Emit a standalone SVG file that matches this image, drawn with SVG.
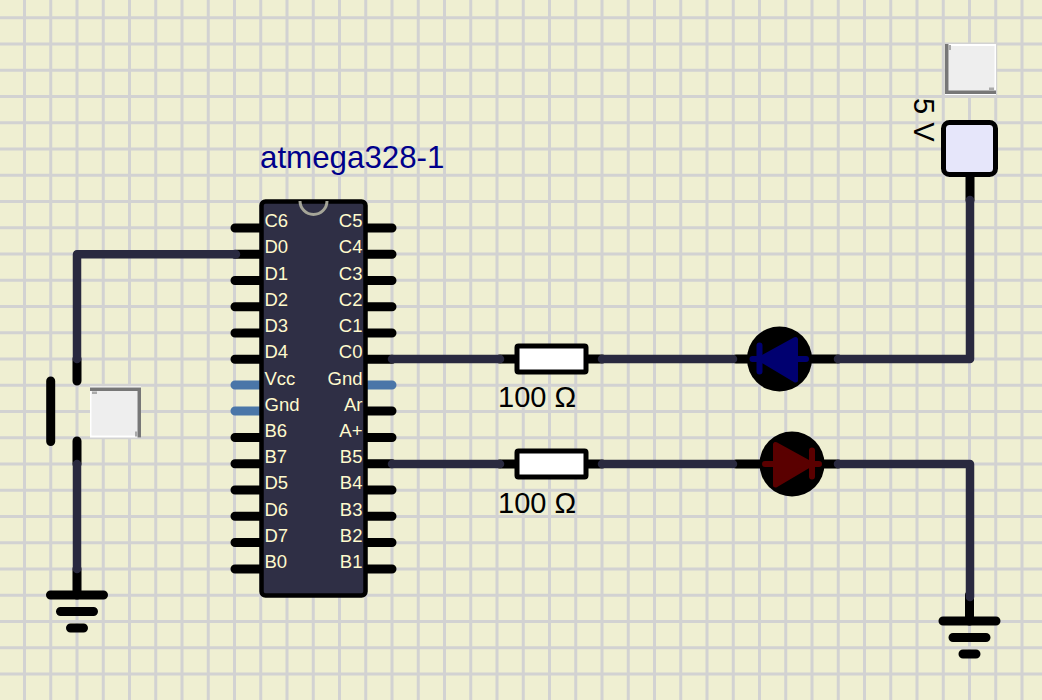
<svg xmlns="http://www.w3.org/2000/svg" width="1042" height="700" viewBox="0 0 1042 700">
<style>
.grid{fill:none;stroke:#d2d2d2;stroke-width:3}
.wire{fill:none;stroke:#29293f;stroke-width:8.500;stroke-linecap:round;stroke-linejoin:round}
.blk{fill:none;stroke:#000;stroke-width:9;stroke-linecap:round}
.pin{stroke:#000;stroke-width:9;stroke-linecap:round}
.pwr{stroke:#4a76a8;stroke-width:9;stroke-linecap:round}
.lbl{font-family:"Liberation Sans",Arial,sans-serif;font-size:18.500px;fill:#fffacd}
.end{text-anchor:end}
.val{font-family:"Liberation Sans",Arial,sans-serif;font-size:29px;fill:#000}
.btn-o{fill:#fff}
.btn-i{fill:#eee}
.btn-d{fill:#777}
.btn-m{fill:#aaa}
.res{fill:#fff;stroke:#000;stroke-width:5;stroke-linejoin:round}
</style>
<defs>
<g id="gnd">
<path class="blk" d="M0 -26V0"/>
<path class="blk" d="M-26.5 0H26.5M-16.5 16.5H16.5M-6.5 33H6.5"/>
</g>
<g id="button">
<rect class="btn-o" x="0" y="0" width="51" height="51"/>
<rect class="btn-i" x="1.5" y="3" width="46" height="46"/>
<path class="btn-d" d="M0 1H51V51H47.5V4.5H0Z"/>
<rect class="btn-m" x="2" y="5" width="5" height="2.500"/>
<rect class="btn-m" x="45" y="45" width="2.500" height="5"/>
</g>
</defs>
<rect width="1042" height="700" fill="#efefd2"/>
<path class="grid" d="M24.500 0V700M50.750 0V700M77 0V700M103.250 0V700M129.500 0V700M155.750 0V700M182 0V700M208.250 0V700M234.500 0V700M260.750 0V700M287 0V700M313.250 0V700M339.500 0V700M365.750 0V700M392 0V700M418.250 0V700M444.500 0V700M470.750 0V700M497 0V700M523.250 0V700M549.500 0V700M575.750 0V700M602 0V700M628.250 0V700M654.500 0V700M680.750 0V700M707 0V700M733.250 0V700M759.500 0V700M785.750 0V700M812 0V700M838.250 0V700M864.500 0V700M890.750 0V700M917 0V700M943.250 0V700M969.500 0V700M995.750 0V700M1022 0V700"/>
<path class="grid" d="M0 17.700H1042M0 43.950H1042M0 70.200H1042M0 96.450H1042M0 122.700H1042M0 148.950H1042M0 175.200H1042M0 201.450H1042M0 227.700H1042M0 253.950H1042M0 280.200H1042M0 306.450H1042M0 332.700H1042M0 358.950H1042M0 385.200H1042M0 411.450H1042M0 437.700H1042M0 463.950H1042M0 490.200H1042M0 516.450H1042M0 542.700H1042M0 568.950H1042M0 595.200H1042M0 621.450H1042M0 647.700H1042M0 673.950H1042"/>
<g id="chip">
<g>
<path class="pin" d="M235 228H262M235 254.200H262M235 280.500H262M235 306.700H262M235 333H262M235 359.200H262M235 437.500H262M235 463.700H262M235 490H262M235 516.200H262M235 542.500H262M235 569H262"/>
<path class="pin" d="M366 228H392M366 254.200H392M366 280.500H392M366 306.700H392M366 333H392M366 359.200H392M366 411H392M366 437.500H392M366 463.700H392M366 490H392M366 516.200H392M366 542.500H392M366 569H392"/>
<path class="pwr" d="M235 385H262M235 411H262M366 385H392"/>
</g>
<rect x="261.500" y="201.500" width="104" height="394" rx="4" fill="#2f2f45" stroke="#000" stroke-width="4.500"/>
<path d="M300 201A13.500 13.500 0 0 0 327 201" fill="none" stroke="#a5a598" stroke-width="3"/>
<text class="lbl" x="264.500" y="227">C6</text>
<text class="lbl" x="264.500" y="253">D0</text>
<text class="lbl" x="264.500" y="279.500">D1</text>
<text class="lbl" x="264.500" y="306">D2</text>
<text class="lbl" x="264.500" y="332">D3</text>
<text class="lbl" x="264.500" y="358">D4</text>
<text class="lbl" x="264.500" y="384.500">Vcc</text>
<text class="lbl" x="264.500" y="411">Gnd</text>
<text class="lbl" x="264.500" y="437">B6</text>
<text class="lbl" x="264.500" y="463">B7</text>
<text class="lbl" x="264.500" y="489">D5</text>
<text class="lbl" x="264.500" y="516">D6</text>
<text class="lbl" x="264.500" y="542">D7</text>
<text class="lbl" x="264.500" y="568">B0</text>
<text class="lbl end" x="362.500" y="227">C5</text>
<text class="lbl end" x="362.500" y="253">C4</text>
<text class="lbl end" x="362.500" y="279.500">C3</text>
<text class="lbl end" x="362.500" y="306">C2</text>
<text class="lbl end" x="362.500" y="332">C1</text>
<text class="lbl end" x="362.500" y="358">C0</text>
<text class="lbl end" x="362.500" y="384.500">Gnd</text>
<text class="lbl end" x="362.500" y="411">Ar</text>
<text class="lbl end" x="362.500" y="437">A+</text>
<text class="lbl end" x="362.500" y="463">B5</text>
<text class="lbl end" x="362.500" y="489">B4</text>
<text class="lbl end" x="362.500" y="516">B3</text>
<text class="lbl end" x="362.500" y="542">B2</text>
<text class="lbl end" x="362.500" y="568">B1</text>
<text x="260" y="168" font-family="Liberation Sans,Arial,sans-serif" font-size="31.300" fill="#00008b">atmega328-1</text>
</g>
<g id="switch">
<path class="blk" d="M77 359V381M50.700 381V441.500M77 441V464"/>
<use href="#button" x="90" y="386.500"/>
</g>
<g id="ground1"><use href="#gnd" x="77" y="595"/></g>
<g id="ground2"><use href="#gnd" x="969.500" y="621"/></g>
<g id="source">
<use href="#button" transform="translate(996 95) rotate(180)"/>
<path class="blk" d="M970 177V200"/>
<rect x="943.500" y="122.500" width="52" height="52" rx="6" fill="#e6e6fa" stroke="#000" stroke-width="5"/>
<text class="val" transform="translate(913.500 98) rotate(90)">5 V</text>
</g>
<g id="r1">
<path class="blk" d="M500 359H602"/>
<rect x="517" y="346" width="69" height="26" rx="1.500" class="res"/>
<text class="val" x="498" y="407">100 Ω</text>
</g>
<g id="r2">
<path class="blk" d="M500 464H602"/>
<rect x="517" y="451" width="69" height="26" rx="1.500" class="res"/>
<text class="val" x="498" y="512.500">100 Ω</text>
</g>
<g id="led1">
<path class="blk" d="M736 359H838"/>
<circle cx="779.500" cy="359" r="32.500" fill="#000"/>
<path d="M795.500 339.500V380L760 359Z" fill="#000070" stroke="#000070" stroke-width="5" stroke-linejoin="round"/>
<path d="M759.500 345.500V371.500M752.500 359H806" stroke="#000070" stroke-width="6" stroke-linecap="round" fill="none"/>
</g>
<g id="led2">
<path class="blk" d="M736 464H838"/>
<circle cx="792" cy="464" r="32.500" fill="#000"/>
<path d="M775.500 444.500V485L811 464Z" fill="#5a0000" stroke="#5a0000" stroke-width="5" stroke-linejoin="round"/>
<path d="M812 450.500V476.500M765 464H819" stroke="#5a0000" stroke-width="6" stroke-linecap="round" fill="none"/>
</g>
<g id="connectors">
<path class="wire" d="M236 254.200H77V359"/>
<path class="wire" d="M77 464V569"/>
<path class="wire" d="M392 359H500"/>
<path class="wire" d="M392 464H500"/>
<path class="wire" d="M602 359H733"/>
<path class="wire" d="M602 464H733"/>
<path class="wire" d="M838 359H970V200"/>
<path class="wire" d="M838 464H970V597"/>
</g>
</svg>
